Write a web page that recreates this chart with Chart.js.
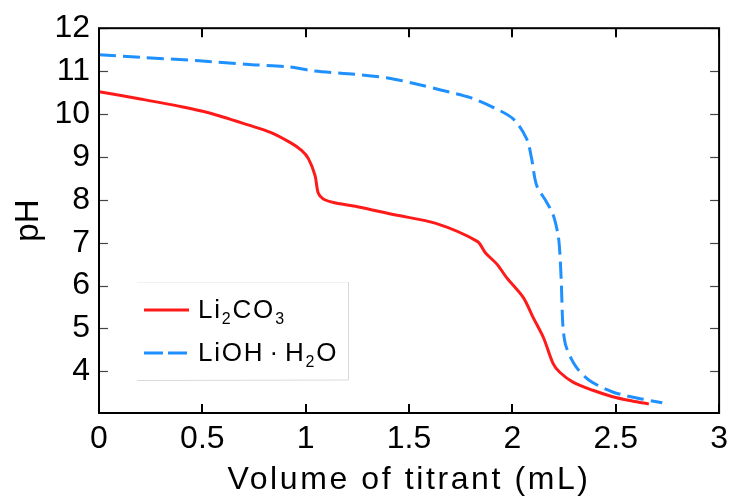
<!DOCTYPE html>
<html>
<head>
<meta charset="utf-8">
<script src="https://cdn.jsdelivr.net/npm/chart.js@4/dist/chart.umd.min.js"></script>
<style>
html,body{margin:0;padding:0;background:#fff;}
#wrap{width:735px;height:499px;position:relative;}
</style>
</head>
<body>
<div id="wrap"><canvas id="c" width="735" height="499"></canvas></div>
<script>
// ---- data ----
const li2co3X = [0, 0.2, 0.4, 0.53, 0.725, 0.83, 0.93, 0.98, 1.013, 1.045, 1.061, 1.085, 1.14, 1.25, 1.43, 1.63, 1.83, 1.87, 1.925, 1.973, 2.053, 2.10, 2.15, 2.197, 2.229, 2.293, 2.389, 2.485, 2.58, 2.66];
const li2co3Y = [10.52, 10.35, 10.17, 10.03, 9.74, 9.57, 9.32, 9.15, 8.96, 8.57, 8.15, 8.02, 7.93, 7.84, 7.65, 7.45, 7.03, 6.76, 6.50, 6.18, 5.72, 5.26, 4.79, 4.18, 3.98, 3.75, 3.56, 3.41, 3.31, 3.24];
const liohX = [0, 0.2, 0.485, 0.74, 0.917, 1.045, 1.205, 1.397, 1.525, 1.653, 1.797, 1.909, 2.005, 2.069, 2.093, 2.117, 2.165, 2.197, 2.221, 2.229, 2.237, 2.245, 2.261, 2.309, 2.373, 2.485, 2.613, 2.725];
const liohY = [11.38, 11.32, 11.24, 11.15, 11.10, 11.0, 10.94, 10.84, 10.71, 10.56, 10.38, 10.15, 9.88, 9.42, 8.96, 8.34, 7.95, 7.65, 7.18, 6.80, 6.03, 5.02, 4.56, 4.10, 3.79, 3.52, 3.37, 3.27];
const xTicks = [0, 0.5, 1, 1.5, 2, 2.5, 3];
const yTicks = [4, 5, 6, 7, 8, 9, 10, 11, 12];
const seriesNames = ['Li₂CO₃', 'LiOH·H₂O'];
const xTitle = 'Volume of titrant (mL)';
const yTitle = 'pH';

const FONT = "'Liberation Sans', Arial, Helvetica, sans-serif";
const RED = '#ff1a1a';
const BLUE = '#1e90ff';

function pts(xs, ys){ return xs.map((x,i)=>({x:x, y:ys[i]})); }

// widen the x-axis title slightly (letter spacing) like the reference
const titleSpacing = {
  id: 'titleSpacing',
  afterLayout(chart){
    const s = chart.scales.x;
    if (s && !s._spacedTitle){
      const orig = s.drawTitle;
      s.drawTitle = function(){
        const ctx = this.ctx; const prev = ctx.letterSpacing;
        ctx.letterSpacing = '2.6px';
        orig.apply(this, arguments);
        ctx.letterSpacing = prev || '0px';
      };
      s._spacedTitle = true;
    }
  }
};

const frameAndTicks = {
  id: 'frameAndTicks',
  afterDraw(chart){
    const ctx = chart.ctx, a = chart.chartArea;
    const xs = chart.scales.x, ys = chart.scales.y;
    ctx.save();
    ctx.strokeStyle = '#000'; ctx.lineWidth = 2;
    xTicks.forEach(v=>{
      const p = Math.round(xs.getPixelForValue(v));
      ctx.beginPath(); ctx.moveTo(p, a.bottom); ctx.lineTo(p, a.bottom-9); ctx.stroke();
      ctx.beginPath(); ctx.moveTo(p, a.top); ctx.lineTo(p, a.top+9); ctx.stroke();
    });
    ctx.strokeStyle = '#444'; ctx.lineWidth = 1.2;
    yTicks.forEach(v=>{
      const p = Math.round(ys.getPixelForValue(v))+0.5;
      ctx.beginPath(); ctx.moveTo(a.left, p); ctx.lineTo(a.left+9, p); ctx.stroke();
      ctx.beginPath(); ctx.moveTo(a.right, p); ctx.lineTo(a.right-9, p); ctx.stroke();
    });
    ctx.strokeStyle = '#000'; ctx.lineWidth = 2;
    ctx.strokeRect(a.left, a.top, a.right-a.left, a.bottom-a.top);

    // legend
    const lx = 137, ly = 282, lw = 211, lh = 98;
    ctx.lineWidth = 1;
    ctx.strokeStyle = '#f2f2f2';
    ctx.beginPath(); ctx.moveTo(lx, ly+0.5); ctx.lineTo(lx+lw, ly+0.5); ctx.stroke();
    ctx.strokeStyle = '#d9d9d9';
    ctx.beginPath(); ctx.moveTo(lx+lw+0.5, ly); ctx.lineTo(lx+lw+0.5, ly+lh); ctx.lineTo(lx, ly+lh+0.5); ctx.stroke();

    const ds = chart.data.datasets;
    ctx.lineWidth = 3;
    ctx.strokeStyle = ds[0].borderColor; ctx.setLineDash([]);
    ctx.beginPath(); ctx.moveTo(144, 310); ctx.lineTo(189, 310); ctx.stroke();
    ctx.strokeStyle = ds[1].borderColor; ctx.setLineDash([19, 5]);
    ctx.beginPath(); ctx.moveTo(144, 353); ctx.lineTo(189, 353); ctx.stroke();
    ctx.setLineDash([]);

    ctx.fillStyle = '#000';
    ctx.textBaseline = 'alphabetic';
    ctx.textAlign = 'left';
    ctx.letterSpacing = '1.8px';
    const big = "26px " + FONT, small = "16px " + FONT;
    function run(parts, x, y){
      parts.forEach(p=>{
        ctx.font = p.sub ? small : big;
        ctx.fillText(p.t, x, y + (p.sub ? 6 : 0));
        x += ctx.measureText(p.t).width + (p.gap||0);
      });
    }
    run([{t:'Li'},{t:'2',sub:true},{t:'CO'},{t:'3',sub:true}], 198, 318);
    run([{t:'LiOH',gap:5},{t:'·',gap:5},{t:'H'},{t:'2',sub:true},{t:'O'}], 198, 361);
    ctx.letterSpacing = '0px';
    ctx.restore();
  }
};

new Chart(document.getElementById('c'), {
  type: 'line',
  data: {
    datasets: [
      { label: seriesNames[0], data: pts(li2co3X, li2co3Y), borderColor: RED, borderWidth: 3,
        pointRadius: 0, tension: 0.3, fill: false },
      { label: seriesNames[1], data: pts(liohX, liohY), borderColor: BLUE, borderWidth: 3,
        borderDash: [17, 7], pointRadius: 0, tension: 0.3, fill: false }
    ]
  },
  options: {
    responsive: false,
    animation: false,
    layout: { padding: { top: 25, right: 11, left: 0, bottom: 0 } },
    plugins: { legend: { display: false }, tooltip: { enabled: false } },
    scales: {
      x: {
        type: 'linear', min: 0, max: 3,
        afterBuildTicks(s){ s.ticks = xTicks.map(v=>({value:v})); },
        afterFit(s){ s.height = 86; },
        grid: { display: false, drawTicks: false },
        border: { display: false },
        ticks: { color: '#000', padding: 7, font: { family: FONT, size: 32 },
                 maxRotation: 0, callback: v => String(v) },
        title: { display: true, text: xTitle, color: '#000',
                 font: { family: FONT, size: 32 }, padding: { top: 0, bottom: 0 } }
      },
      y: {
        type: 'linear', min: 3.03, max: 12,
        afterBuildTicks(s){ s.ticks = yTicks.map(v=>({value:v})); },
        afterFit(s){ s.width = 99; },
        grid: { display: false, drawTicks: false },
        border: { display: false },
        ticks: { color: '#000', padding: 9, font: { family: FONT, size: 32 },
                 callback: v => String(v) },
        title: { display: true, text: yTitle, color: '#000',
                 font: { family: FONT, size: 33 }, padding: { top: 9, bottom: 0 } }
      }
    }
  },
  plugins: [titleSpacing, frameAndTicks]
});
</script>
</body>
</html>
